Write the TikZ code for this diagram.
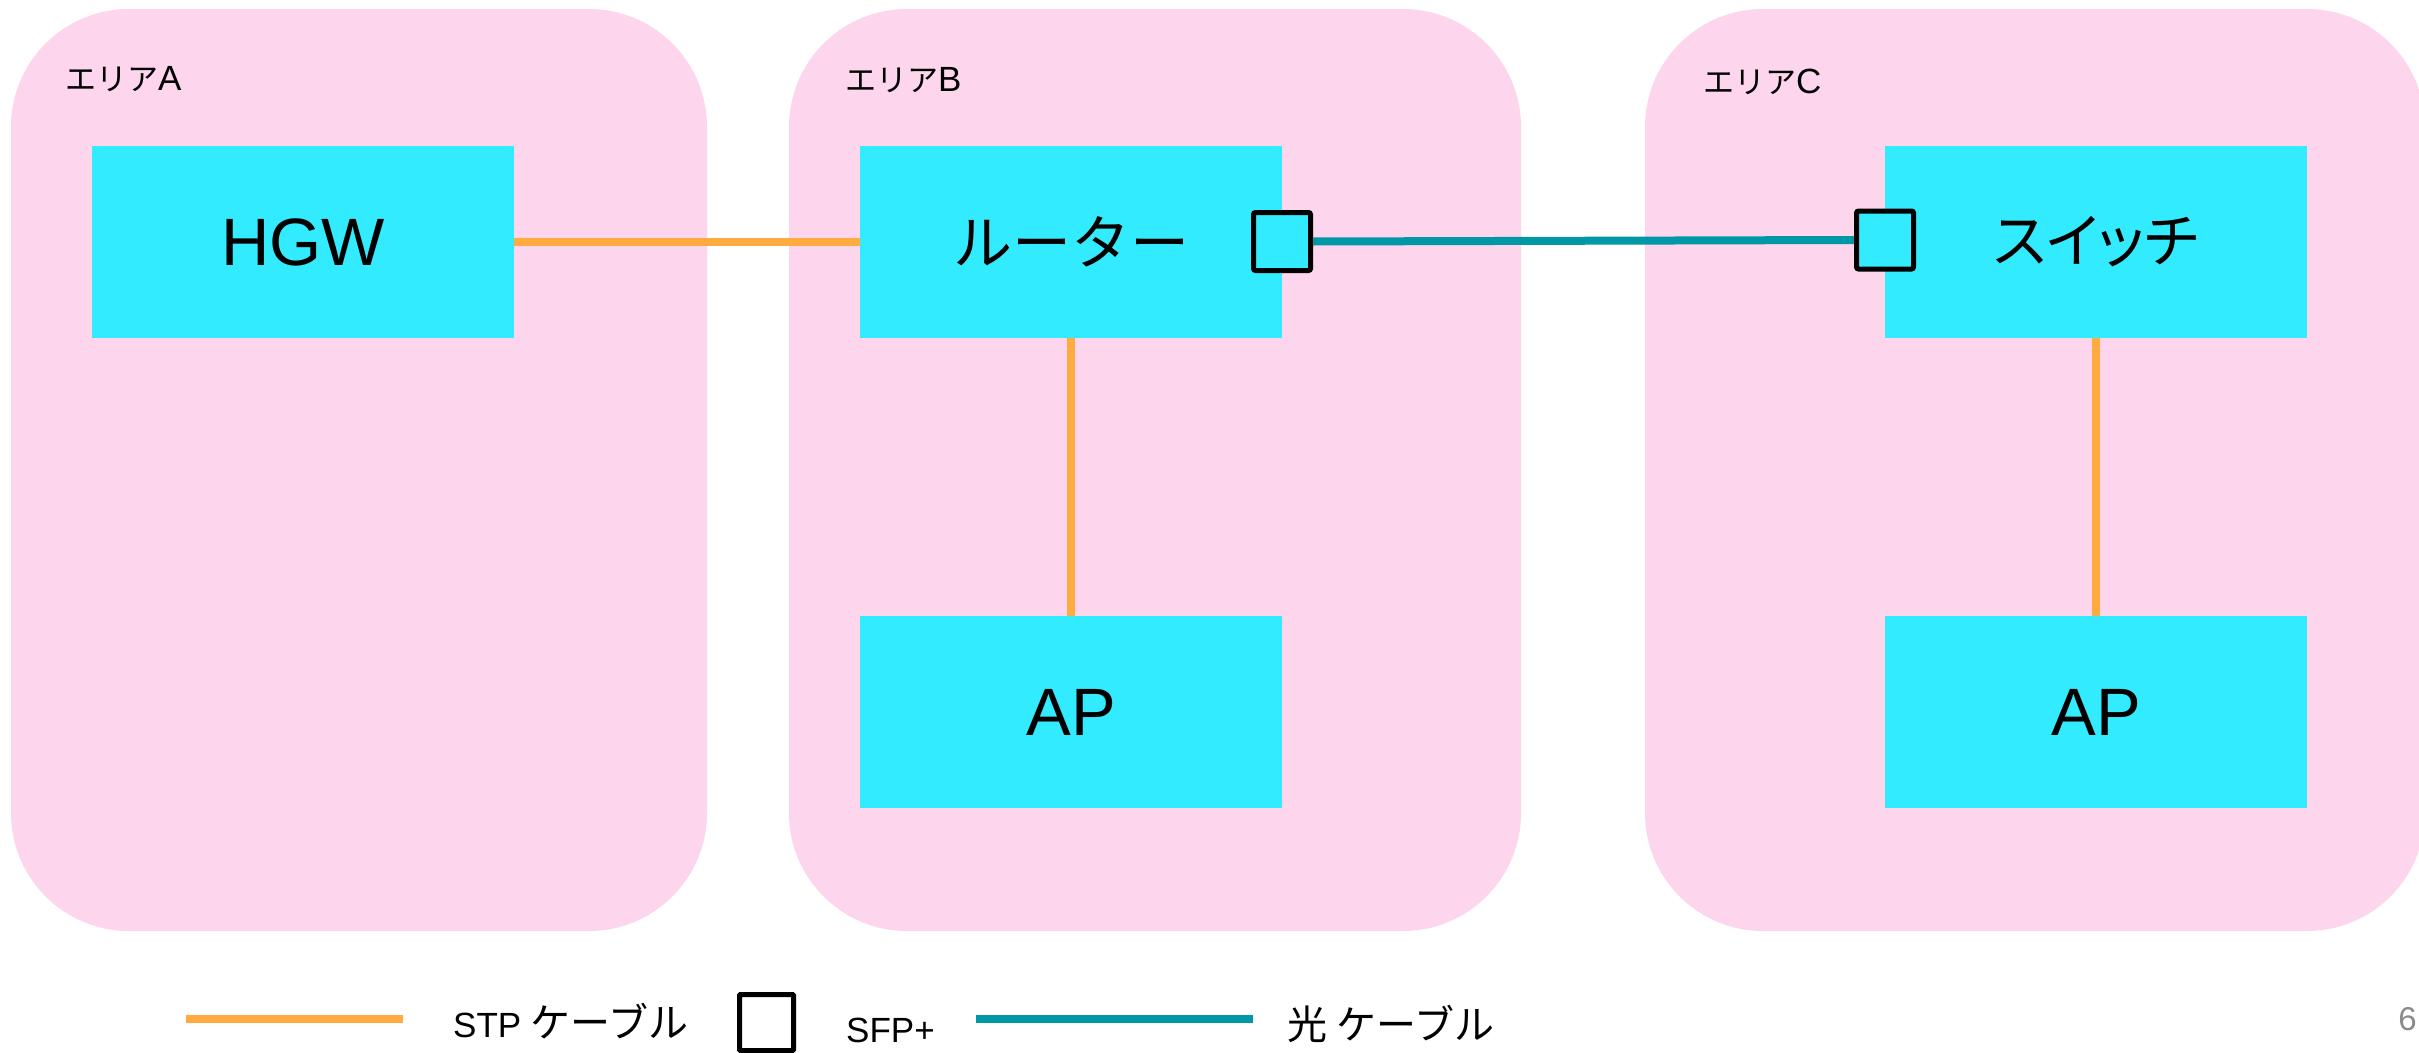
\documentclass[tikz,border=0pt]{standalone}
\usepackage{fontspec}
\setmainfont{Liberation Sans}
\newfontfamily\jpfam{Noto Sans CJK JP}
\newfontfamily\jppfam[RawFeature=+palt]{Noto Sans CJK JP}
\newcommand{\jps}[1]{{\jpfam\fontsize{31pt}{36pt}\selectfont #1}}
\newcommand{\jpm}[1]{{\jpfam\fontsize{40pt}{46pt}\selectfont #1}}
\newcommand{\jpl}[1]{{\jpfam\fontsize{59pt}{66pt}\selectfont #1}}
\newcommand{\jplp}[1]{{\jppfam\fontsize{59pt}{66pt}\selectfont #1}}
\definecolor{areapink}{HTML}{FDD5EC}
\definecolor{boxcyan}{HTML}{33EBFF}
\definecolor{stporange}{HTML}{FFAB40}
\definecolor{fiberteal}{HTML}{0097A7}
\definecolor{pagegray}{HTML}{8A8A8A}
\tikzset{
  area/.style={fill=areapink, draw=none, rounded corners=118pt, inner sep=0pt},
  devbox/.style={fill=boxcyan, draw=none, minimum width=422pt, minimum height=192pt, inner sep=0pt,
    font=\fontsize{67pt}{75pt}\selectfont},
  arealabel/.style={anchor=base west, inner sep=0pt, font=\fontsize{35pt}{40pt}\selectfont},
  legendtext/.style={anchor=base west, inner sep=0pt, font=\fontsize{35pt}{40pt}\selectfont},
  sfpbox/.style={fill=boxcyan, draw=black, line width=5pt, rounded corners=2pt,
    minimum width=57pt, minimum height=58pt, inner sep=0pt},
  stpline/.style={draw=stporange, line width=8pt},
  fiberline/.style={draw=fiberteal, line width=8pt},
}
\begin{document}
\begin{tikzpicture}[x=1pt,y=-1pt]
\useasboundingbox (0,0) rectangle (2419,1052);
\clip (0,0) rectangle (2419,1052);
\fill[white] (0,0) rectangle (2419,1052);
% areas
\node[area, minimum width=696pt, minimum height=922pt] (areaA) at (359,470) {};
\node[area, minimum width=732pt, minimum height=922pt] (areaB) at (1155,470) {};
\node[area, minimum width=780pt, minimum height=922pt] (areaC) at (2035,470) {};
\node[arealabel] (labA) at (65,90) {\jps{エリア}A};
\node[arealabel] (labB) at (845,91) {\jps{エリア}B};
\node[arealabel] (labC) at (1703,93) {\jps{エリア}C};
% devices
\node[devbox] (hgw) at (303,242) {HGW};
\node[devbox] (router) at (1071,242) {\jpl{ルーター}};
\node[devbox] (apB) at (1071,712) {AP};
\node[devbox] (switch) at (2096,242) {\jplp{スイッチ}};
\node[devbox] (apC) at (2096,712) {AP};
% SFP modules
\node[sfpbox] (sfp1) at (1282,241.5) {};
\node[sfpbox] (sfp2) at (1885,240) {};
% connectors
\draw[stpline] (hgw.east) -- (router.west);
\draw[stpline] (router.south) -- (apB.north);
\draw[stpline] (switch.south) -- (apC.north);
\draw[fiberline] (sfp1.east) -- (sfp2.west);
% legend
\coordinate (lg1a) at (186,1018.5);
\coordinate (lg1b) at (403,1018.5);
\draw[stpline] (lg1a) -- (lg1b);
\node[legendtext] (lgt1) at (453,1037) {STP \jpm{ケーブル}};
\node[sfpbox, fill=white, minimum width=54pt, minimum height=56pt, rounded corners=1pt] (lgsfp) at (766.5,1022.5) {};
\node[legendtext] (lgt2) at (846,1042) {SFP+};
\coordinate (lg2a) at (976,1019);
\coordinate (lg2b) at (1253,1019);
\draw[fiberline] (lg2a) -- (lg2b);
\node[legendtext] (lgt3) at (1287,1039) {\jpm{光} \jpm{ケーブル}};
% page number
\node[anchor=base east, inner sep=0pt, text=pagegray, font=\fontsize{33pt}{38pt}\selectfont] (pnum) at (2417,1030) {6};
\end{tikzpicture}
\end{document}
